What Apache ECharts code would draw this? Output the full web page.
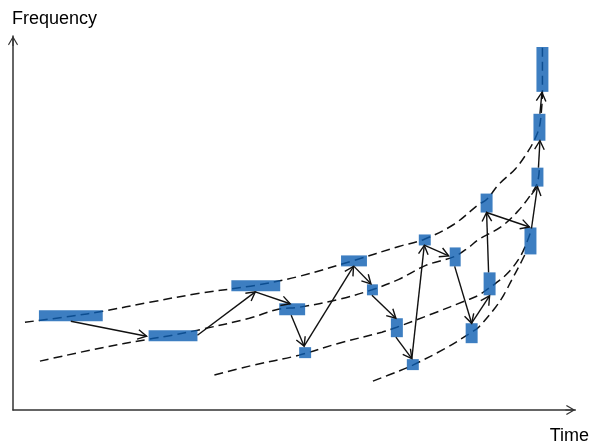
<!DOCTYPE html>
<html>
<head>
<meta charset="utf-8">
<script src="https://cdn.jsdelivr.net/npm/echarts@6/dist/echarts.min.js"></script>
<style>html,body{margin:0;padding:0;background:#fff}#c{width:592px;height:445px}</style>
</head>
<body>
<div id="c"></div>
<script>
// Axis labels
var xName = 'Time';
var yName = 'Frequency';

// Time–frequency atoms: [t start, t end, f low, f high]
var atoms = [
  [26, 90, 89, 100],
  [136, 185, 69, 80],
  [219, 268, 119, 130],
  [267, 293, 95, 107],
  [287, 299, 52, 63],
  [329, 355, 144, 155],
  [355, 366, 115, 126],
  [379, 391, 73, 92],
  [395, 407, 40, 51],
  [407, 419, 165, 176],
  [438, 449, 144, 163],
  [454, 466, 67, 87],
  [472, 484, 115, 138],
  [469, 481, 198, 217],
  [513, 525, 156, 183],
  [520, 532, 224, 243],
  [522, 534, 270, 297],
  [525, 537, 319, 364]
];

// Transitions: [t from, f from, t to, f to]
var transitions = [
  [58, 89, 134, 74],
  [185, 75, 243, 118.5],
  [243, 118.5, 278, 106.5],
  [279, 95, 292, 64],
  [292, 64, 341.5, 144],
  [342, 144, 359, 126.5],
  [360, 115, 384, 92],
  [384, 73, 400, 51.5],
  [400, 51.5, 412.5, 165],
  [413, 165, 437, 154.5],
  [443, 144, 460, 87],
  [460, 87, 478, 114.5],
  [477, 138, 475, 198],
  [475, 198, 518, 183.5],
  [520, 182, 526, 224],
  [527, 243, 528.5, 270],
  [528.5, 297, 530.5, 318.5]
];

// Ridge curves [t, f]
var ridge1 = [[12,88],[58,94],[90,99],[137,108],[187,117],[243,125],[287,134],[342,150],[387,164],[412,171],[442,186],[467,206],[475,211],[487,226],[504,242],[517,260],[524,273],[528,284],[530,300],[531,319],[531,368]];
var ridge2 = [[27,49],[87,62],[136,71],[160,75],[185,80],[237,92],[266,101],[287,103],[327,111],[360,120.5],[387,131],[414,145],[443,154],[457,163],[467,171],[490,184],[507,200],[520,217],[526,228],[528,243]];
var ridge3 = [[202,35],[237,44],[287,55],[327,67],[370,78],[385,83],[422,97],[455,110],[467,115],[477,122],[484,127],[497,138],[510,156],[519,178]];
var ridge4 = [[361,29],[387,39],[401,45],[434,62],[460,78],[467,83],[484,103],[492,115],[500,130],[508,145],[514,157]];

var chart = echarts.init(document.getElementById('c'), null, {renderer: 'canvas'});
var arrowPath = 'path://M5,0 L10,8.6 L9.1,9.3 L5.6,3.2 L5.6,10 L4.4,10 L4.4,3.2 L0.9,9.3 L0,8.6 Z';
var axisCommon = {
  type: 'value',
  axisTick: {show: false},
  axisLabel: {show: false},
  splitLine: {show: false},
  axisLine: {show: true, onZero: false, symbol: ['none', arrowPath], symbolSize: [10, 10], symbolOffset: [0, -5],
    lineStyle: {color: '#333', width: 1.5}}
};
var curveStyle = {type: 'line', smooth: 0.35, showSymbol: false, silent: true, z: 2,
  lineStyle: {color: '#111', width: 1.5, type: [9, 5]}};

chart.setOption({
  animation: false,
  backgroundColor: '#fff',
  grid: {left: 13, right: 15, top: 36, bottom: 34},
  xAxis: Object.assign({}, axisCommon, {min: 0, max: 564, name: xName, nameLocation: 'end', nameGap: -6,
    nameTextStyle: {fontFamily: 'Liberation Sans, Arial', fontSize: 18, color: '#000', align: 'center', verticalAlign: 'top', padding: [17, 0, 0, 0]}}),
  yAxis: Object.assign({}, axisCommon, {min: 0, max: 375, name: yName, nameLocation: 'end', nameGap: 8,
    nameTextStyle: {fontFamily: 'Liberation Sans, Arial', fontSize: 18, color: '#000', align: 'left', verticalAlign: 'bottom', padding: [0, 0, 0, -1]}}),
  series: [
    Object.assign({}, curveStyle, {data: ridge1}),
    Object.assign({}, curveStyle, {data: ridge2}),
    Object.assign({}, curveStyle, {data: ridge3}),
    Object.assign({}, curveStyle, {data: ridge4}),
    {
      type: 'custom', z: 3, silent: true,
      encode: {x: [0, 1], y: [2, 3]},
      data: atoms,
      renderItem: function (params, api) {
        var a = api.coord([api.value(0), api.value(3)]);
        var b = api.coord([api.value(1), api.value(2)]);
        return {type: 'rect', shape: {x: a[0], y: a[1], width: b[0] - a[0], height: b[1] - a[1]},
          style: {fill: 'rgba(12,94,178,0.8)'}};
      }
    },
    {
      type: 'custom', z: 4, silent: true,
      encode: {x: [0, 2], y: [1, 3]},
      data: transitions,
      renderItem: function (params, api) {
        var p = api.coord([api.value(0), api.value(1)]);
        var q = api.coord([api.value(2), api.value(3)]);
        var ang = Math.atan2(q[1] - p[1], q[0] - p[0]);
        var L = 10, w = 0.5;
        var h1 = [q[0] - L * Math.cos(ang - w), q[1] - L * Math.sin(ang - w)];
        var h2 = [q[0] - L * Math.cos(ang + w), q[1] - L * Math.sin(ang + w)];
        var st = {stroke: '#111', lineWidth: 1.4, fill: null};
        return {type: 'group', children: [
          {type: 'line', shape: {x1: p[0], y1: p[1], x2: q[0], y2: q[1]}, style: st},
          {type: 'polyline', shape: {points: [h1, q, h2]}, style: st}
        ]};
      }
    }
  ]
});
</script>
</body>
</html>
